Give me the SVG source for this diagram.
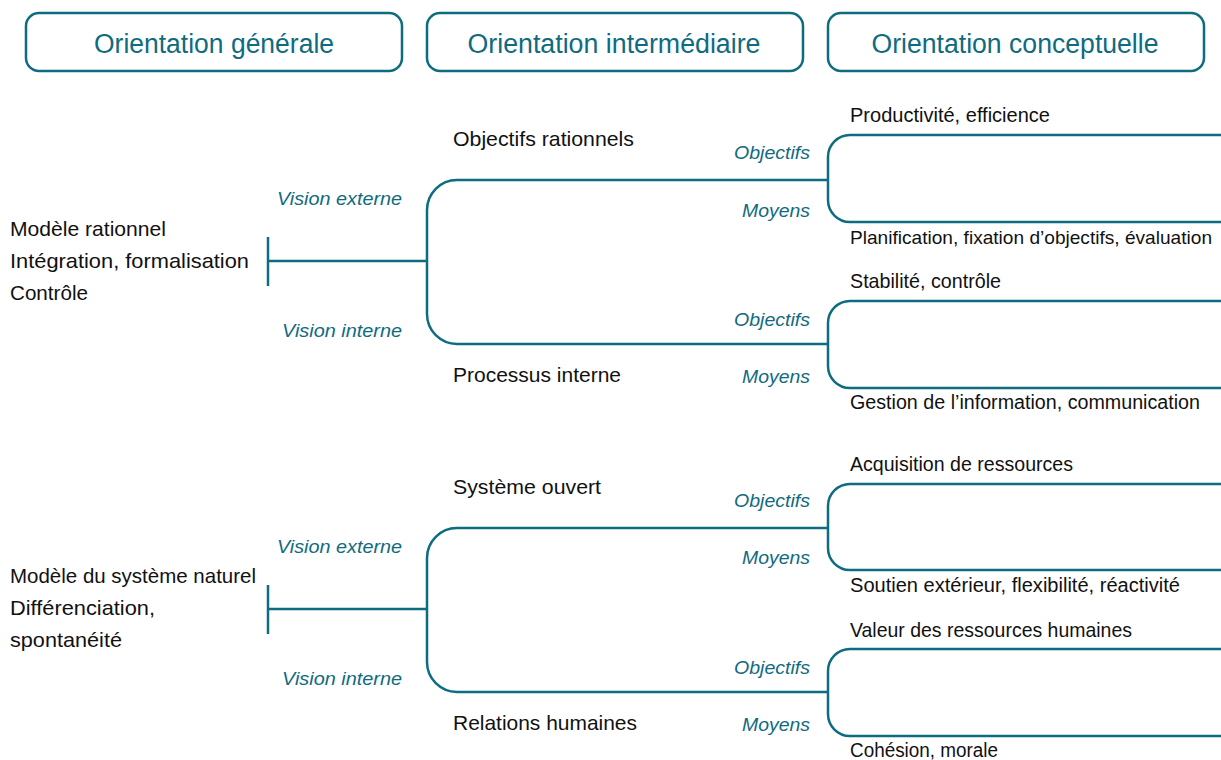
<svg xmlns="http://www.w3.org/2000/svg" width="1221" height="760" viewBox="0 0 1221 760">
  <style>
    .hdr-box { fill: #ffffff; stroke: #0d6c80; stroke-width: 2.5; }
    .hdr { font-family: "Liberation Sans", Arial, sans-serif; font-size: 27px; fill: #0f6b80; text-anchor: middle; }
    .lbl { font-family: "Liberation Sans", Arial, sans-serif; font-size: 21px; fill: #111111; }
    .lbl.low { font-size: 20px; }
    .lbl.long { font-size: 19px; }
    .tag { font-family: "Liberation Sans", Arial, sans-serif; font-size: 19px; font-style: italic; fill: #0f6b80; text-anchor: end; }
    .link { fill: none; stroke: #0d6c80; stroke-width: 2.5; }
  </style>

  <!-- Column headers -->
  <g id="header-generale">
    <rect class="hdr-box" x="26" y="13" width="376" height="58" rx="13"/>
    <text class="hdr" x="214" y="53" textLength="240" lengthAdjust="spacingAndGlyphs">Orientation générale</text>
  </g>
  <g id="header-intermediaire">
    <rect class="hdr-box" x="427" y="13" width="376" height="58" rx="13"/>
    <text class="hdr" x="614" y="53" textLength="293" lengthAdjust="spacingAndGlyphs">Orientation intermédiaire</text>
  </g>
  <g id="header-conceptuelle">
    <rect class="hdr-box" x="828" y="13" width="376" height="58" rx="13"/>
    <text class="hdr" x="1015" y="53" textLength="287" lengthAdjust="spacingAndGlyphs">Orientation conceptuelle</text>
  </g>

  <!-- Connectors -->
  <g id="connectors">
    <!-- rational model -->
    <path class="link" d="M268,237 V286"/>
    <path class="link" d="M268,261 H427"/>
    <path class="link" d="M828,180 H457 A30,30 0 0 0 427,210 V314 A30,30 0 0 0 457,344 H828"/>
    <path class="link" d="M1221,135 H850 A22,22 0 0 0 828,157 V200 A22,22 0 0 0 850,222 H1221"/>
    <path class="link" d="M1221,301 H850 A22,22 0 0 0 828,323 V366 A22,22 0 0 0 850,388 H1221"/>
    <!-- natural system model -->
    <path class="link" d="M268,585 V634"/>
    <path class="link" d="M268,609 H427"/>
    <path class="link" d="M828,528 H457 A30,30 0 0 0 427,558 V662 A30,30 0 0 0 457,692 H828"/>
    <path class="link" d="M1221,484 H850 A22,22 0 0 0 828,506 V548 A22,22 0 0 0 850,570 H1221"/>
    <path class="link" d="M1221,649 H850 A22,22 0 0 0 828,671 V714 A22,22 0 0 0 850,736 H1221"/>
  </g>

  <!-- General orientation -->
  <g id="modele-rationnel">
    <text class="lbl" x="10" y="236" textLength="156" lengthAdjust="spacingAndGlyphs">Modèle rationnel</text>
    <text class="lbl" x="10" y="268" textLength="239" lengthAdjust="spacingAndGlyphs">Intégration, formalisation</text>
    <text class="lbl" x="10" y="300" textLength="78" lengthAdjust="spacingAndGlyphs">Contrôle</text>
  </g>
  <g id="modele-systeme-naturel">
    <text class="lbl" x="10" y="583" textLength="246" lengthAdjust="spacingAndGlyphs">Modèle du système naturel</text>
    <text class="lbl" x="10" y="615" textLength="145" lengthAdjust="spacingAndGlyphs">Différenciation,</text>
    <text class="lbl" x="10" y="647" textLength="112" lengthAdjust="spacingAndGlyphs">spontanéité</text>
  </g>

  <!-- Vision tags -->
  <g id="vision-tags">
    <text class="tag" x="402" y="205" textLength="125" lengthAdjust="spacingAndGlyphs">Vision externe</text>
    <text class="tag" x="402" y="337" textLength="120" lengthAdjust="spacingAndGlyphs">Vision interne</text>
    <text class="tag" x="402" y="553" textLength="125" lengthAdjust="spacingAndGlyphs">Vision externe</text>
    <text class="tag" x="402" y="685" textLength="120" lengthAdjust="spacingAndGlyphs">Vision interne</text>
  </g>

  <!-- Intermediate orientation -->
  <g id="objectifs-rationnels">
    <text class="lbl" x="453" y="146" textLength="181" lengthAdjust="spacingAndGlyphs">Objectifs rationnels</text>
  </g>
  <g id="processus-interne">
    <text class="lbl" x="453" y="382" textLength="168" lengthAdjust="spacingAndGlyphs">Processus interne</text>
  </g>
  <g id="systeme-ouvert">
    <text class="lbl" x="453" y="494" textLength="148" lengthAdjust="spacingAndGlyphs">Système ouvert</text>
  </g>
  <g id="relations-humaines">
    <text class="lbl" x="453" y="730" textLength="184" lengthAdjust="spacingAndGlyphs">Relations humaines</text>
  </g>

  <!-- Goal / means tags -->
  <g id="objectifs-moyens-tags">
    <text class="tag" x="810" y="159" textLength="76" lengthAdjust="spacingAndGlyphs">Objectifs</text>
    <text class="tag" x="810" y="217" textLength="68" lengthAdjust="spacingAndGlyphs">Moyens</text>
    <text class="tag" x="810" y="326" textLength="76" lengthAdjust="spacingAndGlyphs">Objectifs</text>
    <text class="tag" x="810" y="383" textLength="68" lengthAdjust="spacingAndGlyphs">Moyens</text>
    <text class="tag" x="810" y="507" textLength="76" lengthAdjust="spacingAndGlyphs">Objectifs</text>
    <text class="tag" x="810" y="564" textLength="68" lengthAdjust="spacingAndGlyphs">Moyens</text>
    <text class="tag" x="810" y="674" textLength="76" lengthAdjust="spacingAndGlyphs">Objectifs</text>
    <text class="tag" x="810" y="731" textLength="68" lengthAdjust="spacingAndGlyphs">Moyens</text>
  </g>

  <!-- Conceptual orientation -->
  <g id="productivite">
    <text class="lbl" x="850" y="122" textLength="200" lengthAdjust="spacingAndGlyphs">Productivité, efficience</text>
  </g>
  <g id="planification">
    <text class="lbl long" x="850" y="244" textLength="362" lengthAdjust="spacingAndGlyphs">Planification, fixation d’objectifs, évaluation</text>
  </g>
  <g id="stabilite">
    <text class="lbl" x="850" y="288" textLength="151" lengthAdjust="spacingAndGlyphs">Stabilité, contrôle</text>
  </g>
  <g id="gestion-information">
    <text class="lbl low" x="850" y="409" textLength="350" lengthAdjust="spacingAndGlyphs">Gestion de l’information, communication</text>
  </g>
  <g id="acquisition-ressources">
    <text class="lbl" x="850" y="471" textLength="223" lengthAdjust="spacingAndGlyphs">Acquisition de ressources</text>
  </g>
  <g id="soutien-exterieur">
    <text class="lbl low" x="850" y="592" textLength="330" lengthAdjust="spacingAndGlyphs">Soutien extérieur, flexibilité, réactivité</text>
  </g>
  <g id="valeur-ressources-humaines">
    <text class="lbl" x="850" y="637" textLength="282" lengthAdjust="spacingAndGlyphs">Valeur des ressources humaines</text>
  </g>
  <g id="cohesion-morale">
    <text class="lbl low" x="850" y="757" textLength="148" lengthAdjust="spacingAndGlyphs">Cohésion, morale</text>
  </g>
</svg>
